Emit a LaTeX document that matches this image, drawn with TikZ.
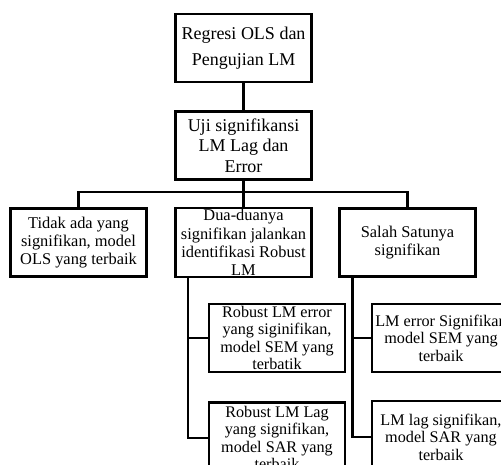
\documentclass[tikz,border=0pt]{standalone}
\usepackage{fontspec}
\setmainfont{Liberation Serif}
\begin{document}
\begin{tikzpicture}[x=1pt,y=-1pt,
  line width=2.6pt,
  box/.style={draw=black, rectangle, inner sep=0pt, align=center, minimum width=136pt, minimum height=68pt},
  bigtxt/.style={font=\fontsize{18}{26}\selectfont},
  midtxt/.style={font=\fontsize{18}{20.5}\selectfont},
  rowtxt/.style={font=\fontsize{16.4}{18.3}\selectfont},
  smalltxt/.style={font=\fontsize{16.2}{17.6}\selectfont}]
\useasboundingbox (0,0) rectangle (501,465);
\clip (0,0) rectangle (501,465);
\node[box,bigtxt] (top) at (243.5,48) {Regresi OLS dan\\Pengujian LM};
\node[box,midtxt] (uji) at (243.5,145.5) {Uji signifikansi\\LM Lag dan\\Error};
\node[box,rowtxt] (b1) at (78.5,242.5) {Tidak ada yang\\signifikan, model\\OLS yang terbaik};
\node[box,rowtxt,minimum height=69pt] (b2) at (243.5,242.5) {Dua-duanya\\signifikan jalankan\\identifikasi Robust\\LM};
\node[box,rowtxt] (b3) at (407.5,242.5) {Salah Satunya\\signifikan};
\node[box,smalltxt] (b4) at (277,338) {Robust LM error\\yang siginifikan,\\model SEM yang\\terbatik};
\node[box,smalltxt,minimum height=71pt] (b5) at (277,438) {Robust LM Lag\\yang signifikan,\\model SAR yang\\terbaik};
\node[box,smalltxt,minimum width=138pt] (b6) at (441,338) {LM error Signifikan\\model SEM yang\\terbaik};
\node[box,smalltxt,minimum width=138pt,minimum height=72pt] (b7) at (441,437) {LM lag signifikan,\\model SAR yang\\terbaik};
\coordinate (bus) at (243.5,192);
\coordinate (lv) at (188,0);
\coordinate (rv) at (352.5,0);
\draw (top.south) -- (uji.north);
\draw (uji.south) -- (bus);
\draw (b1.north) |- (bus) -| (b3.north);
\draw (bus) -- (b2.north);
\draw (b2.south -| lv) |- (b4.west);
\draw (b2.south -| lv) |- (b5.west);
\draw (b3.south -| rv) |- (b6.west);
\draw (b3.south -| rv) |- (b7.west);
\end{tikzpicture}
\end{document}
